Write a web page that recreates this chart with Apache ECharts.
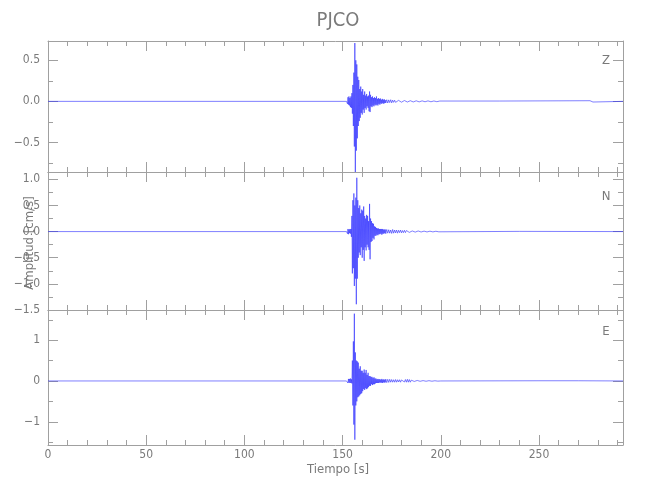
<!DOCTYPE html>
<html>
<head>
<meta charset="utf-8">
<script src="https://cdn.jsdelivr.net/npm/echarts@6/dist/echarts.min.js"></script>
<style>html,body{margin:0;padding:0;background:#fff}#c{width:650px;height:500px}</style>
</head>
<body>
<div id="c"></div>
<script>
// ---- data ----
const stationName = 'PJCO';
const channels = ['Z', 'N', 'E'];
const xTitle = 'Tiempo [s]';
const yTitle = 'Amplitud [cm/s]';
const tEnd = 292.8;
// strong-motion part, sampled every 0.25 s from 152.0 s to 172.0 s
const denseStart = 152;
const denseStep = 0.25;
// coda, sampled every 0.5 s from 172.5 s to 200.0 s
const codaStart = 172.5;
const codaStep = 0.5;

const zDense = [
  0, 0.02, -0.03, 0.05,
  -0.04, 0.06, -0.05, 0.04,
  -0.07, 0.06, -0.08, 0.1,
  -0.15, 0.2, -0.3, 0.35,
  -0.55, 0.71, -0.86, 0.5,
  -0.6, 0.45, -0.45, 0.3,
  -0.3, 0.26, -0.24, 0.15,
  -0.2, 0.18, -0.14, 0.12,
  -0.16, 0.15, -0.1, 0.08,
  -0.14, 0.12, -0.08, 0.07,
  -0.1, 0.09, -0.06, 0.06,
  -0.08, 0.07, -0.12, 0.12,
  -0.13, 0.08, -0.06, 0.05,
  -0.07, 0.06, -0.05, 0.04,
  -0.06, 0.05, -0.04, 0.04,
  -0.05, 0.06, -0.04, 0.03,
  -0.05, 0.04, -0.03, 0.03,
  -0.04, 0.035, -0.025, 0.02,
  -0.03, 0.03, -0.02, 0.02,
  -0.03, 0.025, -0.02, 0.015,
  -0.02];
const zCoda = [
  0.02, -0.02, 0.018, -0.015, 0.02, -0.018, 0.015, -0.012, 0.014, -0.012,
  0.012, -0.01, 0.012, -0.01, 0.01, -0.01, 0.012, -0.009, 0.01, -0.008,
  0.009, -0.008, 0.01, -0.009, 0.008, -0.007, 0.008, -0.007, 0.009, -0.007,
  0.007, -0.006, 0.008, -0.006, 0.007, -0.006, 0.006, -0.006, 0.007, -0.005,
  0.006, -0.005, 0.006, -0.005, 0.005, -0.005, 0.006, -0.004, 0.005, -0.004,
  0.005, -0.004, 0.004, -0.004, 0.004, 0];

const nDense = [
  0, 0.03, -0.04, 0.05,
  -0.05, 0.04, -0.03, 0.05,
  -0.04, 0.05, -0.1, 0.3,
  -0.8, 0.6, -0.7, 0.73,
  -1.04, 0.5, -0.9, 0.65,
  -1.39, 1.03, -0.9, 0.6,
  -0.5, 0.45, -0.4, 0.5,
  -0.45, 0.35, -0.3, 0.42,
  -0.5, 0.4, -0.35, 0.48,
  -0.56, 0.3, -0.3, 0.25,
  -0.36, 0.32, -0.25, 0.3,
  -0.3, 0.2, -0.35, 0.53,
  -0.53, 0.25, -0.2, 0.2,
  -0.18, 0.16, -0.12, 0.15,
  -0.15, 0.1, -0.08, 0.09,
  -0.08, 0.07, -0.06, 0.06,
  -0.07, 0.06, -0.05, 0.05,
  -0.05, 0.05, -0.04, 0.05,
  -0.06, 0.05, -0.04, 0.04,
  -0.04, 0.04, -0.03, 0.04,
  -0.04];
const nCoda = [
  0.04, -0.03, 0.035, -0.03, 0.03, -0.035, 0.04, -0.03, 0.03, -0.025,
  0.03, -0.03, 0.025, -0.02, 0.03, -0.025, 0.02, -0.02, 0.025, -0.02,
  0.02, -0.015, 0.018, -0.015, 0.015, -0.012, 0.012, -0.012, 0.012, -0.01,
  0.01, -0.01, 0.012, -0.01, 0.01, -0.008, 0.01, -0.008, 0.009, -0.008,
  0.008, -0.007, 0.008, -0.007, 0.008, -0.006, 0.007, -0.006, 0.006, -0.005,
  0.006, -0.005, 0.005, -0.004, 0.004, 0];

const eDense = [
  0, -0.03, 0.04, -0.05,
  0.05, -0.04, 0.05, -0.05,
  0.06, -0.05, 0.04, -0.06,
  0.5, -0.6, 0.97, -1.07,
  1.65, -1.44, 0.7, -0.6,
  0.5, -0.5, 0.48, -0.4,
  0.45, -0.38, 0.3, -0.35,
  0.36, -0.32, 0.25, -0.3,
  0.25, -0.25, 0.2, -0.2,
  0.28, -0.22, 0.2, -0.18,
  0.27, -0.2, 0.15, -0.18,
  0.2, -0.15, 0.12, -0.12,
  0.12, -0.12, 0.1, -0.08,
  0.1, -0.1, 0.07, -0.08,
  0.09, -0.08, 0.06, -0.06,
  0.06, -0.05, 0.04, -0.05,
  0.05, -0.05, 0.04, -0.04,
  0.045, -0.04, 0.03, -0.04,
  0.05, -0.05, 0.03, -0.035,
  0.04, -0.04, 0.03, -0.035,
  0.045];
const eCoda = [
  -0.04, 0.04, -0.035, 0.04, -0.03, 0.035, -0.03, 0.03, -0.03, 0.035,
  -0.03, 0.03, -0.025, 0.03, -0.03, 0.025, -0.02, 0.03, -0.025, 0.035,
  -0.03, 0.04, -0.03, 0.035, -0.03, 0.02, -0.015, 0.015, -0.012, 0.012,
  -0.01, 0.012, -0.01, 0.01, -0.008, 0.01, -0.008, 0.009, -0.008, 0.008,
  -0.007, 0.008, -0.007, 0.007, -0.006, 0.006, -0.006, 0.006, -0.005, 0.005,
  -0.005, 0.005, -0.004, 0.004, -0.004, 0];

// quiet sections after the coda (time, value)
const zTailT = [230, 231, 276, 276.5, 277, 277.5, 278, 292.8];
const zTailV = [0.004, -0.004, 0.008, -0.01, 0.012, -0.008, 0.004, 0];
const nTailT = [240, 241, 292.8];
const nTailV = [0.004, -0.004, 0];
const eTailT = [250, 251, 270, 271, 292.8];
const eTailV = [0.005, -0.005, 0.005, -0.005, 0];

// y ranges of the three panels
const yMins = [-0.86, -1.5, -1.57];
const yMaxs = [0.735, 1.14, 1.74];
const ySplits = [3, 5, 3];
const yDecimals = [1, 1, 0];

function build(dense, coda, tailT, tailV) {
  const d = [[0, 0]];
  dense.forEach((v, i) => d.push([denseStart + i * denseStep, v]));
  coda.forEach((v, i) => d.push([codaStart + i * codaStep, v]));
  tailT.forEach((t, i) => d.push([t, tailV[i]]));
  return d;
}
const traces = [
  build(zDense, zCoda, zTailT, zTailV),
  build(nDense, nCoda, nTailT, nTailV),
  build(eDense, eCoda, eTailT, eTailV)
];

// ---- chart ----
const FONT = "'Liberation Sans Narrow', 'DejaVu Sans Condensed', 'Liberation Sans', sans-serif";
const AX = '#a0a0a0';
const TXT = '#7a7a7a';
const grids = [
  {left: 48, right: 27, top: 41, height: 131},
  {left: 48, right: 27, top: 172, height: 138},
  {left: 48, right: 27, top: 310, height: 135}
];
const xAxes = [], yAxes = [], series = [];
for (let g = 0; g < 3; g++) {
  ['bottom', 'top'].forEach(pos => {
    const showLab = (pos === 'bottom' && g === 2);
    xAxes.push({
      type: 'value', gridIndex: g, position: pos, min: 0, max: tEnd, interval: 50,
      axisLine: {show: true, onZero: false, lineStyle: {color: AX, width: 1}},
      axisTick: {show: true, inside: true, length: 10, lineStyle: {color: AX}},
      minorTick: {show: true, splitNumber: 5, length: 5, lineStyle: {color: AX}},
      splitLine: {show: false},
      axisLabel: {show: showLab, color: TXT, fontSize: 12, fontFamily: FONT, margin: 4,
        showMaxLabel: false}
    });
  });
  ['left', 'right'].forEach(pos => {
    const showLab = pos === 'left';
    const dec = yDecimals[g];
    yAxes.push({
      type: 'value', gridIndex: g, position: pos,
      min: yMins[g], max: yMaxs[g], splitNumber: ySplits[g],
      axisLine: {show: true, onZero: false, lineStyle: {color: AX, width: 1}},
      axisTick: {show: true, inside: true, length: 10, lineStyle: {color: AX}},
      minorTick: {show: true, splitNumber: 2, length: 5, lineStyle: {color: AX}},
      splitLine: {show: false},
      axisLabel: {show: showLab, color: TXT, fontSize: 12, fontFamily: FONT, margin: 8,
        showMinLabel: g === 1, showMaxLabel: false,
        formatter: v => (Math.abs(v) < 1e-9 ? 0 : v).toFixed(dec).replace('-', '\u2212')}
    });
  });
  series.push({
    type: 'line', xAxisIndex: g * 2, yAxisIndex: g * 2, data: traces[g],
    showSymbol: false, symbol: 'none', sampling: null, animation: false, clip: true,
    lineStyle: {color: '#2a2aff', width: 0.6}
  });
}
const txt = (text, x, y, size, rot) => ({
  type: 'text', x: x, y: y, rotation: rot || 0, z: 10,
  style: {text: text, fill: TXT, fontSize: size, fontFamily: FONT, textAlign: 'center', textVerticalAlign: 'middle'}
});
const chart = echarts.init(document.getElementById('c'), null, {renderer: 'canvas'});
chart.setOption({
  backgroundColor: '#fff',
  animation: false,
  grid: grids,
  xAxis: xAxes,
  yAxis: yAxes,
  series: series,
  graphic: [
    txt(stationName, 338, 21, 20),
    txt(channels[0], 606, 61, 13),
    txt(channels[1], 606, 197, 13),
    txt(channels[2], 606, 332, 13),
    txt(xTitle, 338, 470, 13),
    txt(yTitle, 30, 243, 13, Math.PI / 2)
  ]
});
</script>
</body>
</html>
